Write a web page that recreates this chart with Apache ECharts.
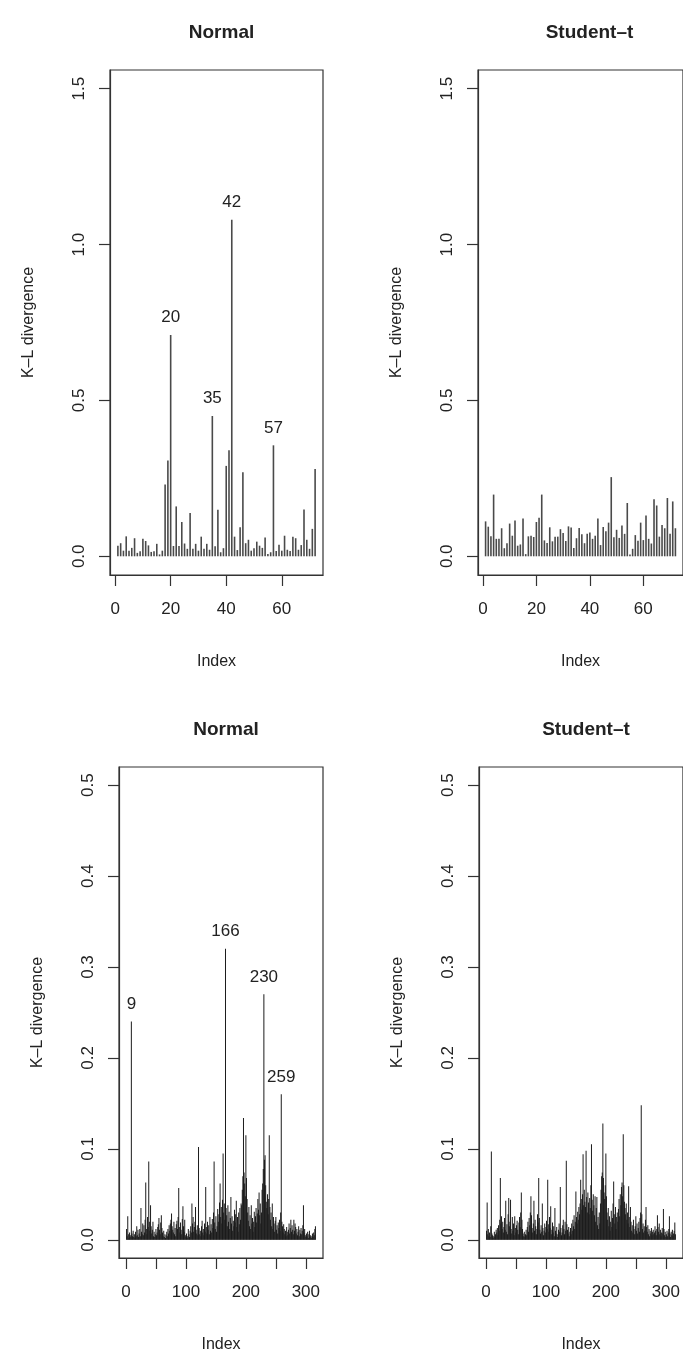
<!DOCTYPE html>
<html>
<head>
    <meta charset="utf-8">
    <title>K-L divergence</title>
    <script src="https://cdn.jsdelivr.net/npm/echarts@6/dist/echarts.min.js"></script>
    <style>
        html, body { margin: 0; padding: 0; background: #fff; }
        #main { width: 683px; height: 1361px; }
    </style>
</head>
<body>
<div id="main"></div>
<script>
    // top row, 72 observations
    var normalTop = [
        0.034, 0.042, 0.018, 0.064, 0.018, 0.027, 0.058, 0.011, 0.016, 0.056,
        0.049, 0.035, 0.014, 0.016, 0.040, 0.006, 0.018, 0.230, 0.307, 0.710,
        0.033, 0.160, 0.033, 0.110, 0.041, 0.024, 0.139, 0.024, 0.040, 0.018,
        0.063, 0.024, 0.040, 0.021, 0.450, 0.032, 0.149, 0.013, 0.026, 0.290,
        0.340, 1.080, 0.063, 0.020, 0.093, 0.270, 0.042, 0.053, 0.018, 0.026,
        0.047, 0.034, 0.027, 0.060, 0.007, 0.013, 0.356, 0.017, 0.037, 0.018,
        0.066, 0.021, 0.017, 0.063, 0.058, 0.021, 0.036, 0.150, 0.053, 0.024,
        0.088, 0.280
    ];
    var studentTop = [
        0.112, 0.095, 0.064, 0.198, 0.056, 0.056, 0.090, 0.026, 0.042, 0.105,
        0.066, 0.115, 0.034, 0.038, 0.121, 0.007, 0.064, 0.066, 0.062, 0.110,
        0.124, 0.198, 0.051, 0.043, 0.093, 0.048, 0.063, 0.063, 0.087, 0.075,
        0.049, 0.096, 0.092, 0.027, 0.058, 0.091, 0.071, 0.042, 0.072, 0.076,
        0.056, 0.066, 0.121, 0.036, 0.094, 0.080, 0.108, 0.254, 0.061, 0.085,
        0.059, 0.099, 0.072, 0.171, 0.006, 0.024, 0.068, 0.050, 0.108, 0.052,
        0.131, 0.056, 0.041, 0.183, 0.163, 0.063, 0.100, 0.090, 0.187, 0.072,
        0.176, 0.090
    ];

    // bottom row, 316 observations
    var normalBottom = [
        0.012, 0.004, 0.026, 0.006, 0.002, 0.008, 0.003, 0.005, 0.240, 0.007, 0.004, 0.010, 0.003, 0.006, 0.002, 0.009, 0.004, 0.015, 0.005, 0.011,
        0.003, 0.007, 0.012, 0.004, 0.035, 0.009, 0.006, 0.018, 0.005, 0.016, 0.008, 0.022, 0.063, 0.012, 0.006, 0.025, 0.014, 0.086, 0.020, 0.010,
        0.038, 0.015, 0.007, 0.011, 0.020, 0.004, 0.009, 0.003, 0.006, 0.012, 0.005, 0.008, 0.014, 0.017, 0.024, 0.011, 0.006, 0.019, 0.027, 0.013,
        0.008, 0.004, 0.010, 0.003, 0.006, 0.002, 0.005, 0.009, 0.004, 0.012, 0.007, 0.016, 0.010, 0.018, 0.022, 0.029, 0.015, 0.011, 0.008, 0.020,
        0.006, 0.013, 0.004, 0.017, 0.021, 0.012, 0.025, 0.057, 0.014, 0.008, 0.019, 0.011, 0.006, 0.023, 0.037, 0.015, 0.009, 0.022, 0.005, 0.003,
        0.007, 0.002, 0.004, 0.012, 0.006, 0.003, 0.010, 0.015, 0.008, 0.040, 0.018, 0.025, 0.009, 0.014, 0.020, 0.036, 0.011, 0.007, 0.016, 0.005,
        0.102, 0.013, 0.006, 0.010, 0.004, 0.015, 0.021, 0.008, 0.012, 0.005, 0.018, 0.009, 0.058, 0.014, 0.007, 0.020, 0.011, 0.016, 0.006, 0.025,
        0.010, 0.017, 0.008, 0.023, 0.013, 0.030, 0.086, 0.019, 0.012, 0.026, 0.009, 0.015, 0.034, 0.020, 0.028, 0.041, 0.062, 0.025, 0.036, 0.018,
        0.044, 0.095, 0.030, 0.040, 0.022, 0.320, 0.035, 0.027, 0.015, 0.038, 0.020, 0.031, 0.012, 0.024, 0.047, 0.018, 0.026, 0.010, 0.021, 0.015,
        0.033, 0.019, 0.028, 0.043, 0.014, 0.025, 0.009, 0.030, 0.017, 0.035, 0.022, 0.040, 0.038, 0.055, 0.070, 0.134, 0.074, 0.062, 0.048, 0.115,
        0.068, 0.045, 0.030, 0.021, 0.036, 0.015, 0.027, 0.012, 0.038, 0.018, 0.024, 0.009, 0.020, 0.031, 0.014, 0.026, 0.035, 0.019, 0.029, 0.045,
        0.033, 0.052, 0.027, 0.040, 0.018, 0.030, 0.055, 0.062, 0.078, 0.270, 0.088, 0.093, 0.060, 0.042, 0.035, 0.050, 0.028, 0.045, 0.115, 0.036,
        0.022, 0.030, 0.015, 0.040, 0.012, 0.025, 0.018, 0.009, 0.021, 0.025, 0.011, 0.016, 0.007, 0.019, 0.013, 0.022, 0.010, 0.030, 0.160, 0.020,
        0.015, 0.008, 0.017, 0.012, 0.006, 0.010, 0.004, 0.014, 0.009, 0.005, 0.011, 0.018, 0.007, 0.013, 0.022, 0.009, 0.016, 0.011, 0.006, 0.022,
        0.010, 0.018, 0.014, 0.007, 0.012, 0.005, 0.009, 0.015, 0.004, 0.011, 0.007, 0.013, 0.006, 0.010, 0.016, 0.038, 0.008, 0.012, 0.005, 0.003,
        0.007, 0.004, 0.009, 0.002, 0.006, 0.010, 0.003, 0.005, 0.002, 0.004, 0.007, 0.003, 0.008, 0.005, 0.012, 0.015
    ];
    var studentBottom = [
        0.010, 0.041, 0.006, 0.012, 0.004, 0.008, 0.003, 0.015, 0.097, 0.007, 0.005, 0.002, 0.004, 0.009, 0.003, 0.006, 0.011, 0.008, 0.013, 0.005,
        0.016, 0.010, 0.022, 0.068, 0.018, 0.026, 0.012, 0.020, 0.008, 0.014, 0.024, 0.011, 0.043, 0.009, 0.017, 0.006, 0.028, 0.046, 0.015, 0.020,
        0.044, 0.012, 0.007, 0.025, 0.010, 0.018, 0.005, 0.026, 0.013, 0.008, 0.016, 0.021, 0.011, 0.006, 0.019, 0.025, 0.014, 0.030, 0.052, 0.022,
        0.012, 0.007, 0.004, 0.009, 0.003, 0.006, 0.011, 0.005, 0.014, 0.020, 0.009, 0.024, 0.016, 0.030, 0.048, 0.027, 0.013, 0.008, 0.018, 0.043,
        0.010, 0.022, 0.015, 0.006, 0.012, 0.028, 0.019, 0.068, 0.024, 0.011, 0.007, 0.016, 0.009, 0.040, 0.013, 0.005, 0.010, 0.018, 0.008, 0.014,
        0.021, 0.012, 0.066, 0.017, 0.009, 0.025, 0.013, 0.037, 0.006, 0.011, 0.019, 0.008, 0.015, 0.004, 0.035, 0.010, 0.007, 0.014, 0.003, 0.006,
        0.011, 0.018, 0.009, 0.058, 0.013, 0.005, 0.008, 0.016, 0.022, 0.012, 0.006, 0.020, 0.010, 0.087, 0.017, 0.011, 0.007, 0.014, 0.004, 0.009,
        0.013, 0.006, 0.018, 0.010, 0.022, 0.015, 0.027, 0.012, 0.020, 0.053, 0.025, 0.018, 0.031, 0.022, 0.036, 0.028, 0.040, 0.066, 0.045, 0.033,
        0.050, 0.094, 0.038, 0.055, 0.042, 0.036, 0.098, 0.047, 0.030, 0.052, 0.041, 0.028, 0.046, 0.035, 0.060, 0.105, 0.044, 0.032, 0.050, 0.038,
        0.027, 0.048, 0.020, 0.035, 0.047, 0.016, 0.025, 0.012, 0.030, 0.018, 0.040, 0.055, 0.070, 0.074, 0.128, 0.068, 0.052, 0.045, 0.060, 0.095,
        0.048, 0.030, 0.022, 0.035, 0.015, 0.026, 0.010, 0.020, 0.032, 0.014, 0.024, 0.040, 0.064, 0.028, 0.018, 0.036, 0.012, 0.025, 0.030, 0.020,
        0.034, 0.045, 0.026, 0.050, 0.038, 0.058, 0.063, 0.048, 0.116, 0.060, 0.042, 0.035, 0.028, 0.040, 0.022, 0.030, 0.018, 0.059, 0.025, 0.014,
        0.036, 0.020, 0.010, 0.016, 0.008, 0.022, 0.012, 0.006, 0.015, 0.026, 0.010, 0.018, 0.007, 0.013, 0.020, 0.009, 0.024, 0.030, 0.148, 0.028,
        0.012, 0.018, 0.008, 0.015, 0.010, 0.022, 0.036, 0.014, 0.009, 0.016, 0.006, 0.012, 0.004, 0.010, 0.007, 0.013, 0.005, 0.009, 0.011, 0.006,
        0.008, 0.015, 0.010, 0.005, 0.012, 0.027, 0.014, 0.009, 0.018, 0.006, 0.011, 0.004, 0.008, 0.013, 0.007, 0.034, 0.012, 0.005, 0.009, 0.003,
        0.006, 0.010, 0.004, 0.008, 0.012, 0.026, 0.007, 0.003, 0.009, 0.005, 0.011, 0.004, 0.007, 0.010, 0.019, 0.006
    ];

    // indices annotated above their spikes
    var labelsNormalTop = [20, 35, 42, 57];
    var labelsNormalBottom = [9, 166, 230, 259];

    var panelTitles = ['Normal', 'Student\u2013t', 'Normal', 'Student\u2013t'];
    var xTicksTop = [0, 20, 40, 60];
    var xTicksBottom = [0, 50, 100, 150, 200, 250, 300];
    var xLabelsBottom = [0, 100, 200, 300];
    var yTicksTop = [0, 0.5, 1.0, 1.5];
    var yTicksBottom = [0, 0.1, 0.2, 0.3, 0.4, 0.5];

    var FONT = "'Liberation Sans', Arial, Helvetica, sans-serif";
    var INK = '#222';

    // plot boxes (px)
    var boxes = [
        {left: 110, top: 70, width: 213, height: 505},
        {left: 478, top: 70, width: 213, height: 505},
        {left: 119, top: 767, width: 204, height: 491},
        {left: 479, top: 767, width: 204, height: 491}
    ];

    function toPoints(values, labelled) {
        var out = [];
        for (var i = 0; i < values.length; i++) {
            var idx = i + 1;
            var item = {value: [idx, values[i]]};
            if (labelled && labelled.indexOf(idx) >= 0) {
                item.label = {
                    show: true, position: 'top', distance: 9,
                    formatter: String(idx), fontSize: 17, color: INK, fontFamily: FONT
                };
            }
            out.push(item);
        }
        return out;
    }

    // R style 4% padding on the x range
    function xRange(n) {
        var pad = 0.04 * (n - 1);
        return [1 - pad, n + pad];
    }

    var panels = [
        {values: normalTop, labels: labelsNormalTop, xt: xTicksTop, xl: xTicksTop, yt: yTicksTop, ymax: 1.5, bw: 1.6, col: '#4a4a4a'},
        {values: studentTop, labels: null, xt: xTicksTop, xl: xTicksTop, yt: yTicksTop, ymax: 1.5, bw: 1.6, col: '#4a4a4a'},
        {values: normalBottom, labels: labelsNormalBottom, xt: xTicksBottom, xl: xLabelsBottom, yt: yTicksBottom, ymax: 0.5, bw: 1, col: '#1c1c1c'},
        {values: studentBottom, labels: null, xt: xTicksBottom, xl: xLabelsBottom, yt: yTicksBottom, ymax: 0.5, bw: 1, col: '#1c1c1c'}
    ];

    var option = {
        animation: false,
        backgroundColor: '#fff',
        title: [], grid: [], xAxis: [], yAxis: [], series: []
    };

    panels.forEach(function (p, k) {
        var b = boxes[k];
        var xr = xRange(p.values.length);
        option.title.push({
            text: panelTitles[k],
            left: b.left + b.width / 2,
            top: b.top - 52,
            textAlign: 'center',
            textStyle: {fontFamily: FONT, fontSize: 19, fontWeight: 'bold', color: INK}
        });
        option.grid.push({
            left: b.left, top: b.top, width: b.width, height: b.height,
            show: true, borderColor: '#333', borderWidth: 1.2, backgroundColor: 'transparent',
            containLabel: false
        });
        option.xAxis.push({
            type: 'value', gridIndex: k, min: xr[0], max: xr[1],
            name: 'Index', nameLocation: 'middle', nameGap: 79,
            nameTextStyle: {fontFamily: FONT, fontSize: 16, color: INK},
            axisLine: {show: true, onZero: false, lineStyle: {color: '#333', width: 1.2}},
            axisTick: {show: true, inside: false, length: 11, customValues: p.xt, lineStyle: {color: '#333', width: 1.2}},
            axisLabel: {
                show: true, margin: 26, customValues: p.xl, fontFamily: FONT, fontSize: 17, color: INK,
                formatter: function (v) { return String(Math.round(v)); }
            },
            splitLine: {show: false}
        });
        option.yAxis.push({
            type: 'value', gridIndex: k, min: -0.04 * p.ymax, max: 1.04 * p.ymax,
            name: 'K\u2013L divergence', nameLocation: 'middle', nameGap: 73, nameRotate: 90,
            nameTextStyle: {fontFamily: FONT, fontSize: 16, color: INK},
            axisLine: {show: true, onZero: false, lineStyle: {color: '#333', width: 1.2}},
            axisTick: {show: true, inside: false, length: 11, customValues: p.yt, lineStyle: {color: '#333', width: 1.2}},
            axisLabel: {
                show: true, margin: 22, rotate: 90, customValues: p.yt, fontFamily: FONT, fontSize: 17, color: INK,
                formatter: function (v) { return v.toFixed(1); }
            },
            splitLine: {show: false}
        });
        option.series.push({
            type: 'bar', xAxisIndex: k, yAxisIndex: k,
            barWidth: p.bw, barGap: '-100%',
            itemStyle: {color: p.col},
            data: toPoints(p.values, p.labels)
        });
    });

    var myChart = echarts.init(document.getElementById('main'), null, {renderer: 'canvas'});
    myChart.setOption(option);
</script>
</body>
</html>
